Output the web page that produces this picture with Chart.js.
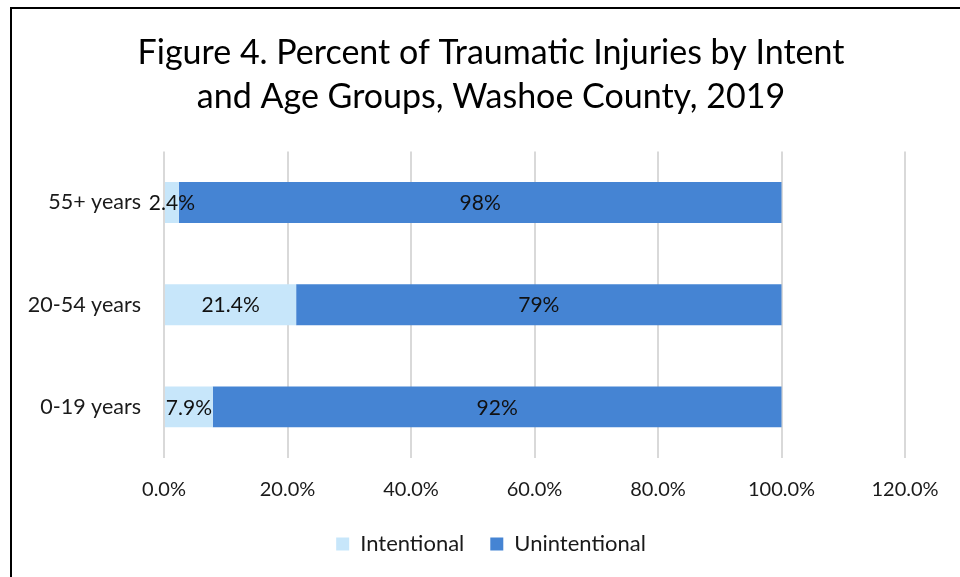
<!DOCTYPE html>
<html>
<head>
<meta charset="utf-8">
<script src="https://cdn.jsdelivr.net/npm/chart.js@4/dist/chart.umd.min.js"></script>
<style>
  html, body { margin: 0; padding: 0; background: #fff; }
  #wrap { width: 960px; height: 577px; position: relative; }
</style>
</head>
<body>
<div id="wrap"><canvas id="c" width="960" height="577"></canvas></div>
<script>
const categories = ['55+ years', '20-54 years', '0-19 years'];
const intentional = [2.4, 21.4, 7.9];
const unintentional = [97.6, 78.6, 92.1];
const xTicks = [0, 20, 40, 60, 80, 100, 120];
const titleLines = ['Figure 4. Percent of Traumatic Injuries by Intent', 'and Age Groups, Washoe County, 2019'];

const FONT = 'Lato, "Open Sans", sans-serif';

const frame = {
  id: 'frame',
  beforeDraw(chart) {
    const ctx = chart.ctx;
    ctx.save();
    ctx.fillStyle = '#ffffff';
    ctx.fillRect(0, 0, chart.width, chart.height);
    ctx.fillStyle = '#000000';
    ctx.fillRect(10, 7, 950, 2);
    ctx.fillRect(10, 7, 2, 570);
    ctx.restore();
  }
};

const labels = {
  id: 'barLabels',
  afterDatasetsDraw(chart) {
    const ctx = chart.ctx;
    ctx.save();
    ctx.font = '21px ' + FONT;
    ctx.fillStyle = '#111111';
    ctx.textAlign = 'center';
    ctx.textBaseline = 'middle';
    chart.data.datasets.forEach((ds, di) => {
      const meta = chart.getDatasetMeta(di);
      meta.data.forEach((el, i) => {
        const v = ds.data[i];
        const txt = di === 0 ? v.toFixed(1) + '%' : Math.round(v) + '%';
        ctx.fillText(txt, (el.x + el.base) / 2, el.y + 1);
      });
    });
    ctx.restore();
  }
};

const PAD_LEFT = 77;

new Chart(document.getElementById('c'), {
  type: 'bar',
  data: {
    labels: categories,
    datasets: [
      { label: 'Intentional', data: intentional, backgroundColor: '#C7E6FA', borderWidth: 0 },
      { label: 'Unintentional', data: unintentional, backgroundColor: '#4584D3', borderWidth: 0 }
    ]
  },
  options: {
    indexAxis: 'y',
    responsive: false,
    animation: false,
    devicePixelRatio: 1,
    layout: { padding: { left: PAD_LEFT, right: 55, top: 0, bottom: 12 } },
    datasets: { bar: { categoryPercentage: 1, barPercentage: 0.4 } },
    scales: {
      x: {
        stacked: true,
        min: 0, max: 120,
        afterBuildTicks(scale) { scale.ticks = xTicks.map(v => ({ value: v })); },
        afterFit(scale) { scale.height = 49; },
        grid: { color: '#d9d9d9', lineWidth: 2, drawTicks: false },
        border: { display: false },
        ticks: {
          padding: 20,
          color: '#1a1a1a',
          font: { family: FONT, size: 20 },
          callback: v => v.toFixed(1) + '%'
        }
      },
      y: {
        stacked: true,
        afterFit(scale) {
          scale.width = 164 - PAD_LEFT;
          scale._computeLabelArea = () => undefined; // let category labels extend left of the axis box
        },
        grid: { display: false },
        border: { display: false },
        ticks: { padding: 15, color: '#1a1a1a', font: { family: FONT, size: 21.5 } }
      }
    },
    plugins: {
      tooltip: { enabled: false },
      title: {
        display: true,
        text: titleLines,
        color: '#000000',
        font: { family: FONT, size: 34, weight: 'normal', lineHeight: 1.3 },
        padding: { top: 31, bottom: 32 }
      },
      legend: {
        position: 'bottom',
        labels: {
          boxWidth: 13, boxHeight: 13, padding: 26,
          color: '#1a1a1a',
          font: { family: FONT, size: 22 }
        }
      }
    }
  },
  plugins: [frame, labels]
});
</script>
</body>
</html>
